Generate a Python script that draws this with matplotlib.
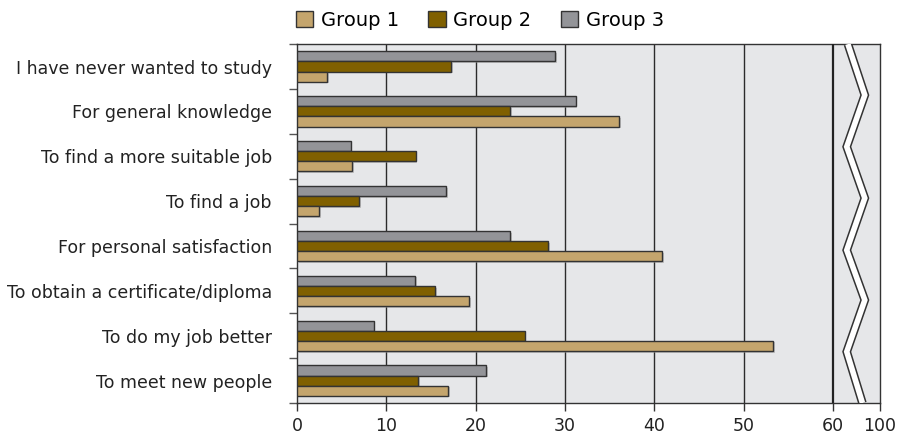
import numpy as np
import matplotlib
matplotlib.use("Agg")
import matplotlib.pyplot as plt
import matplotlib.patheffects as pe
from matplotlib.patches import Patch

# data (percent)
categories = ["I have never wanted to study", "For general knowledge",
              "To find a more suitable job", "To find a job",
              "For personal satisfaction", "To obtain a certificate/diploma",
              "To do my job better", "To meet new people"]
group1 = [3.4, 36.1, 6.2, 2.5, 40.9, 19.3, 53.3, 16.9]
group2 = [17.3, 23.9, 13.3, 7.0, 28.1, 15.5, 25.5, 13.6]
group3 = [28.9, 31.2, 6.0, 16.7, 23.9, 13.2, 8.6, 21.2]
series_names = ["Group 1", "Group 2", "Group 3"]
xticks = [0, 10, 20, 30, 40, 50, 60, 100]

colors = ["#c4a56d", "#806000", "#939498"]
edge = "#333333"
bg = "#e6e7e9"

# axis is broken after 60: the 60-100 range is squeezed
k = 0.1315
def fwd(x):
    x = np.asarray(x, dtype=float)
    return np.where(x <= 60, x, 60 + (x - 60) * k)
def inv(y):
    y = np.asarray(y, dtype=float)
    return np.where(y <= 60, y, 60 + (y - 60) / k)

plt.rcParams['font.family'] = ['DejaVu Sans']
fig = plt.figure(figsize=(8.97, 4.41), dpi=100)
ax = fig.add_axes([0.331, 0.086, 0.650, 0.814])
ax.set_facecolor(bg)
ax.set_xscale('function', functions=(fwd, inv))
ax.set_xlim(0, 100)

y = np.arange(len(categories))
h = 0.225
shadow = [pe.SimplePatchShadow(offset=(1.2, -1.2), shadow_rgbFace='#999999', alpha=0.5), pe.Normal()]
for vals, off, c in [(group3, -h, colors[2]), (group2, 0, colors[1]), (group1, h, colors[0])]:
    bars = ax.barh(y + off, vals, height=h, color=c, edgecolor=edge, linewidth=1, zorder=3)
    for b in bars:
        b.set_path_effects(shadow)

ax.set_ylim(len(categories) - 0.5, -0.5)

# grid
for g in [10, 20, 30, 40, 50]:
    ax.axvline(g, color="#2b2b2b", lw=1, zorder=1)
ax.axvline(60, color="#222222", lw=1.6, zorder=4)

for s in ax.spines.values():
    s.set_color("#333333")
    s.set_linewidth(1)

ax.set_xticks(xticks)
ax.set_xticklabels([str(t) for t in xticks])
ax.tick_params(axis='x', length=6, width=1, color="#333333", labelsize=12.5, pad=4, labelcolor="#222222")
ax.set_yticks(y)
ax.set_yticklabels(categories)
ax.tick_params(axis='y', length=0, labelsize=12.5, pad=18, labelcolor="#222222")
ax.set_yticks(np.arange(-0.5, len(categories) + 0.5, 1), minor=True)
ax.tick_params(axis='y', which='minor', length=6, width=1, color="#555555")
ax.xaxis.set_minor_locator(matplotlib.ticker.NullLocator())

# zigzag break marker
zx = [0.945, 0.974, 0.943, 0.974, 0.943, 0.974, 0.943, 0.970]
zy = [1.0, 0.858, 0.714, 0.571, 0.426, 0.287, 0.143, 0.0]
ax.plot(zx, zy, transform=ax.transAxes, color="white", lw=4, clip_on=True, zorder=6,
        solid_joinstyle='miter', solid_capstyle='butt',
        path_effects=[pe.Stroke(linewidth=6.2, foreground="#333333"), pe.Normal()])

handles = [Patch(facecolor=c, edgecolor=edge, linewidth=1) for c in colors]
fig.legend(handles, series_names, loc='upper center', bbox_to_anchor=(0.535, 1.015), ncol=3,
           frameon=False, fontsize=14, handlelength=0.9, handleheight=0.9,
           handletextpad=0.4, columnspacing=1.5)

fig.savefig("out.png", dpi=100)
